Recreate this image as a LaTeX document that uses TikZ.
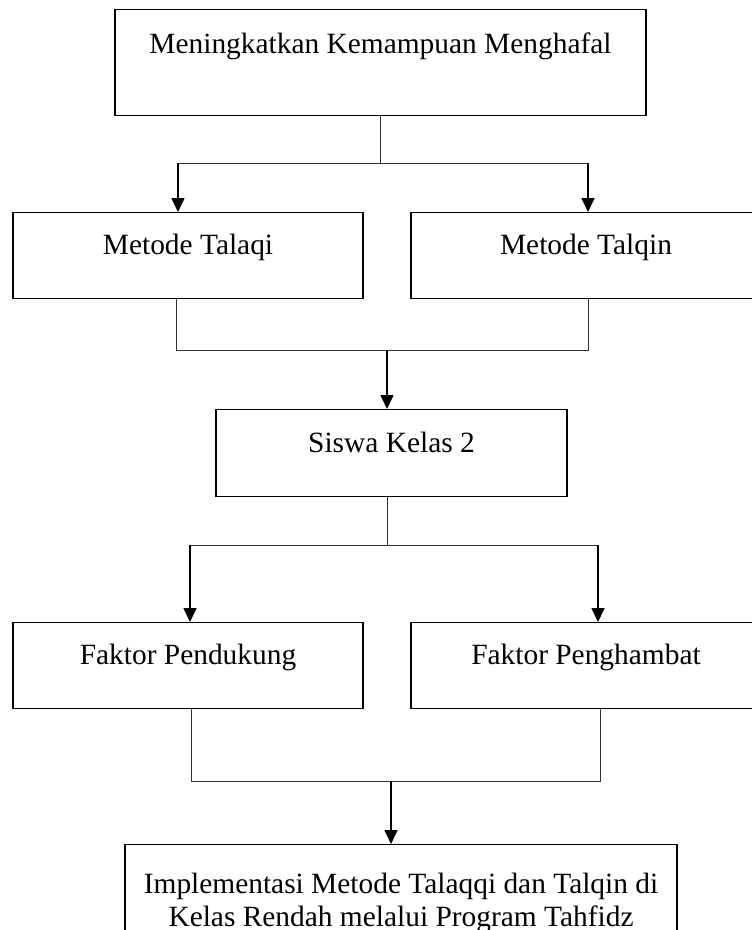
\documentclass[tikz,border=0pt]{standalone}
\usepackage{fontspec}
\setmainfont{Liberation Serif}
\usetikzlibrary{arrows.meta}
\tikzset{
  kotak/.style={draw, line width=1.3pt, inner sep=0pt, anchor=north,
    font=\fontsize{29.4}{33}\selectfont, text height=42pt},
  garis/.style={draw=black!80, line width=0.8pt},
  panah/.style={line width=1.6pt, -{Triangle[width=13pt,length=14pt]}}
}
\begin{document}
\begin{tikzpicture}[x=1pt,y=-1pt]
 \clip (0,0) rectangle (752,930);
 \node[kotak, minimum width=531pt, text height=44pt, text depth=62pt] (atas) at (380.5,9) {Meningkatkan Kemampuan Menghafal};
 \node[kotak, minimum width=350pt, text depth=44pt] (talaqi) at (188,212) {Metode Talaqi};
 \node[kotak, minimum width=350pt, text depth=44pt] (talqin) at (586,212) {Metode Talqin};
 \node[kotak, minimum width=351pt, text height=43pt, text depth=44pt] (siswa) at (391.5,409) {Siswa Kelas 2};
 \node[kotak, minimum width=350pt, text depth=44pt] (pendukung) at (188,622) {Faktor Pendukung};
 \node[kotak, minimum width=350pt, text depth=44pt] (penghambat) at (586,622) {Faktor Penghambat};
 \node[kotak, minimum width=552pt, align=center, text height=82pt, text depth=40pt] (hasil) at (401,844) {Implementasi Metode Talaqqi dan Talqin di\\Kelas Rendah melalui Program Tahfidz};
 % cabang pertama
 \coordinate (ja) at (380.5,163);
 \coordinate (ja-l) at (178,163);
 \coordinate (ja-r) at (588,163);
 \draw[garis] (atas.south) -- (ja);
 \draw[garis] (ja-l) -- (ja-r);
 \draw[panah] (ja-l) -- (ja-l |- talaqi.north);
 \draw[panah] (ja-r) -- (ja-r |- talqin.north);
 % gabungan metode
 \coordinate (jb) at (387,350);
 \coordinate (jb-l) at (176,350);
 \coordinate (jb-r) at (588,350);
 \draw[garis] (jb-l |- talaqi.south) -- (jb-l) -- (jb-r) -- (jb-r |- talqin.south);
 \draw[panah] (jb) -- (jb |- siswa.north);
 % cabang faktor
 \coordinate (jc) at (387,545);
 \coordinate (jc-l) at (190,545);
 \coordinate (jc-r) at (598,545);
 \draw[garis] (jc |- siswa.south) -- (jc);
 \draw[garis] (jc-l) -- (jc-r);
 \draw[panah] (jc-l) -- (jc-l |- pendukung.north);
 \draw[panah] (jc-r) -- (jc-r |- penghambat.north);
 % gabungan faktor
 \coordinate (jd) at (391,781);
 \coordinate (jd-l) at (191,781);
 \coordinate (jd-r) at (600,781);
 \draw[garis] (jd-l |- pendukung.south) -- (jd-l) -- (jd-r) -- (jd-r |- penghambat.south);
 \draw[panah] (jd) -- (jd |- hasil.north);
\end{tikzpicture}
\end{document}
